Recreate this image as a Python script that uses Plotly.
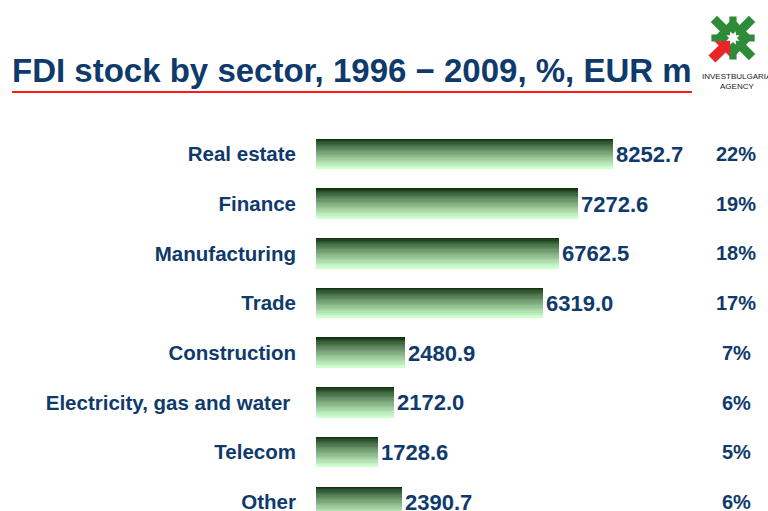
import math
import plotly.graph_objects as go

# ---- data ----
categories = ["Real estate", "Finance", "Manufacturing", "Trade", "Construction",
              "Electricity, gas and water ", "Telecom", "Other"]
values = [8252.7, 7272.6, 6762.5, 6319.0, 2480.9, 2172.0, 1728.6, 2390.7]
shares = ["22%", "19%", "18%", "17%", "7%", "6%", "5%", "6%"]
title_text = "FDI stock by sector, 1996 \u2212 2009, %, EUR m"

W, H = 768, 511
NAVY = "#0f3a6c"
FONT = "Liberation Sans"

def px(x):
    return x / W

def py(y):
    return 1 - y / H

fig = go.Figure()

# gradient bars built from stacked thin slices
N = 24
bar_h = 0.60
dark = (16, 52, 16)
light = (206, 255, 206)
for i in range(N):
    t = (i / (N - 1)) ** 0.8
    c = tuple(int(round(dark[k] + (light[k] - dark[k]) * t)) for k in range(3))
    fig.add_trace(go.Bar(
        y=categories, x=values, orientation="h",
        width=bar_h / N + 0.002, offset=-bar_h / 2 + i * bar_h / N,
        marker=dict(color="rgb(%d,%d,%d)" % c, line=dict(width=0)),
        hoverinfo="skip", showlegend=False,
    ))

# transparent full bar carrying value labels
fig.add_trace(go.Bar(
    y=categories, x=values, orientation="h", width=bar_h,
    marker=dict(color="rgba(0,0,0,0)", line=dict(width=0)),
    texttemplate="%{x:.1f}", textposition="outside",
    textfont=dict(family=FONT, size=22, color=NAVY, weight="bold"),
    cliponaxis=False, showlegend=False,
))

# percentage column
for cat, s in zip(categories, shares):
    fig.add_annotation(x=px(736), xref="paper", y=cat, yref="y", text=s,
                       showarrow=False, xanchor="center", yanchor="middle",
                       font=dict(family=FONT, size=20, color=NAVY, weight="bold"))

# title
fig.add_annotation(x=px(10), xref="paper", y=py(70), yref="paper", text=title_text,
                   showarrow=False, xanchor="left", yanchor="middle",
                   font=dict(family=FONT, size=33, color=NAVY, weight="bold"))
fig.add_shape(type="line", xref="paper", yref="paper",
              x0=px(12), x1=px(692), y0=py(92), y1=py(92),
              line=dict(color="#ff1a1a", width=2))

# simplified logo
cx, cy = 733, 38
def arrow(dx, dy, color, size=1.0):
    L = math.hypot(dx, dy)
    ux, uy = dx / L, dy / L
    vx, vy = -uy, ux
    tip = (cx + ux * 4, cy + uy * 4)
    base = (cx + ux * 14 * size, cy + uy * 14 * size)
    tail = (cx + ux * 27 * size, cy + uy * 27 * size)
    hw, sw = 10 * size, 4.5 * size
    pts = [tip,
           (base[0] + vx * hw, base[1] + vy * hw),
           (base[0] + vx * sw, base[1] + vy * sw),
           (tail[0] + vx * sw, tail[1] + vy * sw),
           (tail[0] - vx * sw, tail[1] - vy * sw),
           (base[0] - vx * sw, base[1] - vy * sw),
           (base[0] - vx * hw, base[1] - vy * hw)]
    path = "M " + " L ".join("%.4f,%.4f" % (px(a), py(b)) for a, b in pts) + " Z"
    fig.add_shape(type="path", xref="paper", yref="paper", path=path,
                  fillcolor=color, line=dict(width=0))

green = "#2e8b3a"
arrow(0, -1, green, 0.8)
arrow(1, 0, green, 0.8)
arrow(0, 1, green, 0.8)
arrow(-1, 0, green, 0.8)
arrow(-1, -1, green)
arrow(1, -1, green)
arrow(1, 1, green)
arrow(-1, 1, "#e8262a", 1.1)
fig.add_annotation(x=px(737), xref="paper", y=py(76), yref="paper", text="INVESTBULGARIA",
                   showarrow=False, xanchor="center", yanchor="middle",
                   font=dict(family="Liberation Sans Narrow, Liberation Sans", size=8, color="#222222"))
fig.add_annotation(x=px(737), xref="paper", y=py(86), yref="paper", text="AGENCY",
                   showarrow=False, xanchor="center", yanchor="middle",
                   font=dict(family="Liberation Sans Narrow, Liberation Sans", size=8, color="#222222"))

# axes: category 0 at y=154px, pitch 49.71px
pitch = (502 - 154) / 7
y_top = 0 - 154 / pitch
y_bot = 7 + (H - 502) / pitch
scale = (613 - 316) / values[0]
x_max = (W - 316) / scale

fig.update_layout(
    width=W, height=H, margin=dict(l=0, r=0, t=0, b=0),
    paper_bgcolor="white", plot_bgcolor="white",
    barmode="overlay", bargap=0, hovermode=False,
    xaxis=dict(domain=[px(316), 1], range=[0, x_max], visible=False),
    yaxis=dict(domain=[0, 1], range=[y_bot, y_top], type="category",
               categoryorder="array", categoryarray=categories,
               showgrid=False, zeroline=False, showline=False, ticks="",
               ticklabelstandoff=19, automargin=False,
               tickfont=dict(family=FONT, size=20.5, color=NAVY, weight="bold")),
)

fig.write_html("out.html", config={"displayModeBar": False},
               post_script="document.body.style.margin='0';document.body.style.overflow='hidden';")
